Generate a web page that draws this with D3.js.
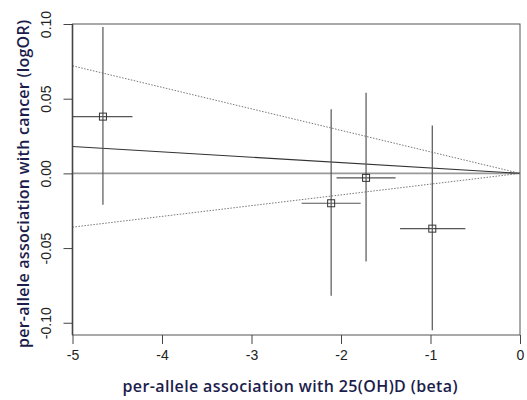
<!DOCTYPE html>
<html>
<head>
<meta charset="utf-8">
<script src="https://cdn.jsdelivr.net/npm/d3@7"></script>
<style>
  body { margin: 0; background: #fff; }
  svg text { font-family: "Liberation Sans", Arial, sans-serif; }
</style>
</head>
<body>
<script>
// data
const beta = [-4.66, -2.11, -1.72, -0.98];
const betaLo = [-5.0, -2.44, -2.05, -1.34];
const betaHi = [-4.33, -1.78, -1.39, -0.61];
const logOR = [0.038, -0.02, -0.003, -0.037];
const orLo = [-0.021, -0.082, -0.059, -0.105];
const orHi = [0.098, 0.043, 0.054, 0.032];

// fitted line through origin and its limits (value at x = -5 and 0)
const lineX = [-5, 0];
const estimate = [0.018, 0];
const upper = [0.072, 0];
const lower = [-0.036, 0];

const xTicks = [-5, -4, -3, -2, -1, 0];
const yTicks = [-0.1, -0.05, 0, 0.05, 0.1];

const width = 527,
  height = 400;
const navy = "#1c1d4c";

const svg = d3
  .select("body")
  .append("svg")
  .attr("width", width)
  .attr("height", height);

const xScale = d3.scaleLinear().domain([-5, 0]).range([72.5, 520]);
const yScale = d3.scaleLinear().domain([-0.1082, 0.1]).range([335, 24]);

const [x0, x1] = xScale.range();
const [y0, y1] = yScale.range();

svg
  .append("clipPath")
  .attr("id", "clip")
  .append("rect")
  .attr("x", x0)
  .attr("y", y1)
  .attr("width", x1 - x0)
  .attr("height", y0 - y1);

const plot = svg.append("g").attr("clip-path", "url(#clip)");

// zero line
plot
  .append("line")
  .attr("x1", x0)
  .attr("x2", x1)
  .attr("y1", yScale(0))
  .attr("y2", yScale(0))
  .attr("stroke", "#9a9a9a")
  .attr("stroke-width", 1.6);

const line = d3
  .line()
  .x((d, i) => xScale(lineX[i]))
  .y((d) => yScale(d));

plot
  .append("path")
  .attr("d", line(estimate))
  .attr("fill", "none")
  .attr("stroke", "#333")
  .attr("stroke-width", 1.1);

[upper, lower].forEach((vals) => {
  plot
    .append("path")
    .attr("d", line(vals))
    .attr("fill", "none")
    .attr("stroke", "#777")
    .attr("stroke-width", 1)
    .attr("stroke-dasharray", "1.5,1.5");
});

// error bars
const idx = d3.range(beta.length);
plot
  .selectAll(".vbar")
  .data(idx)
  .enter()
  .append("line")
  .attr("class", "vbar")
  .attr("x1", (i) => xScale(beta[i]))
  .attr("x2", (i) => xScale(beta[i]))
  .attr("y1", (i) => yScale(orLo[i]))
  .attr("y2", (i) => yScale(orHi[i]))
  .attr("stroke", "#555")
  .attr("stroke-width", 1.2);

plot
  .selectAll(".hbar")
  .data(idx)
  .enter()
  .append("line")
  .attr("class", "hbar")
  .attr("x1", (i) => xScale(betaLo[i]))
  .attr("x2", (i) => xScale(betaHi[i]))
  .attr("y1", (i) => yScale(logOR[i]))
  .attr("y2", (i) => yScale(logOR[i]))
  .attr("stroke", "#555")
  .attr("stroke-width", 1.2);

plot
  .selectAll(".pt")
  .data(idx)
  .enter()
  .append("rect")
  .attr("class", "pt")
  .attr("x", (i) => xScale(beta[i]) - 3.5)
  .attr("y", (i) => yScale(logOR[i]) - 3.5)
  .attr("width", 7)
  .attr("height", 7)
  .attr("fill", "none")
  .attr("stroke", "#333")
  .attr("stroke-width", 1);

// box
svg
  .append("rect")
  .attr("x", x0)
  .attr("y", y1)
  .attr("width", x1 - x0)
  .attr("height", y0 - y1)
  .attr("fill", "none")
  .attr("stroke", "#555")
  .attr("stroke-width", 1);

// left edge looks heavier in the original
svg
  .append("line")
  .attr("x1", x0)
  .attr("x2", x0)
  .attr("y1", y1)
  .attr("y2", y0)
  .attr("stroke", "#444")
  .attr("stroke-width", 1.6);

// R style labels use a plain hyphen for minus
const hyphen = (fmt) => (d) => fmt(d).replace("\u2212", "-");

const xAxis = d3
  .axisBottom(xScale)
  .tickValues(xTicks)
  .tickFormat(hyphen(d3.format("d")))
  .tickSize(9)
  .tickPadding(6);
const gx = svg
  .append("g")
  .attr("transform", "translate(0," + y0 + ")")
  .call(xAxis);

const yAxis = d3
  .axisLeft(yScale)
  .tickValues(yTicks)
  .tickFormat(hyphen(d3.format(".2f")))
  .tickSize(9);
const gy = svg
  .append("g")
  .attr("transform", "translate(" + x0 + ",0)")
  .call(yAxis);

[gx, gy].forEach((g) => {
  g.select(".domain").remove();
  g.selectAll(".tick line").attr("stroke", "#444");
  g.selectAll("text")
    .attr("fill", "#222")
    .style("font-size", "14px")
    .style("font-family", "'Liberation Sans', Arial, sans-serif");
});

gy.selectAll(".tick text")
  .attr("x", 0)
  .attr("y", 0)
  .attr("dy", 0)
  .attr("text-anchor", "middle")
  .attr("transform", "translate(-22,0) rotate(-90)");

// axis titles
svg
  .append("text")
  .attr("x", 290)
  .attr("y", 392)
  .attr("text-anchor", "middle")
  .attr("fill", navy)
  .attr("textLength", 335)
  .attr("lengthAdjust", "spacing")
  .style("font-family", "'Open Sans', Lato, sans-serif")
  .style("font-weight", "600")
  .style("font-size", "16px")
  .text("per-allele association with 25(OH)D (beta)");

svg
  .append("text")
  .attr("transform", "translate(29,184) rotate(-90)")
  .attr("text-anchor", "middle")
  .attr("fill", navy)
  .attr("textLength", 328)
  .attr("lengthAdjust", "spacing")
  .style("font-family", "'Open Sans', Lato, sans-serif")
  .style("font-weight", "600")
  .style("font-size", "16px")
  .text("per-allele association with cancer (logOR)");
</script>
</body>
</html>
